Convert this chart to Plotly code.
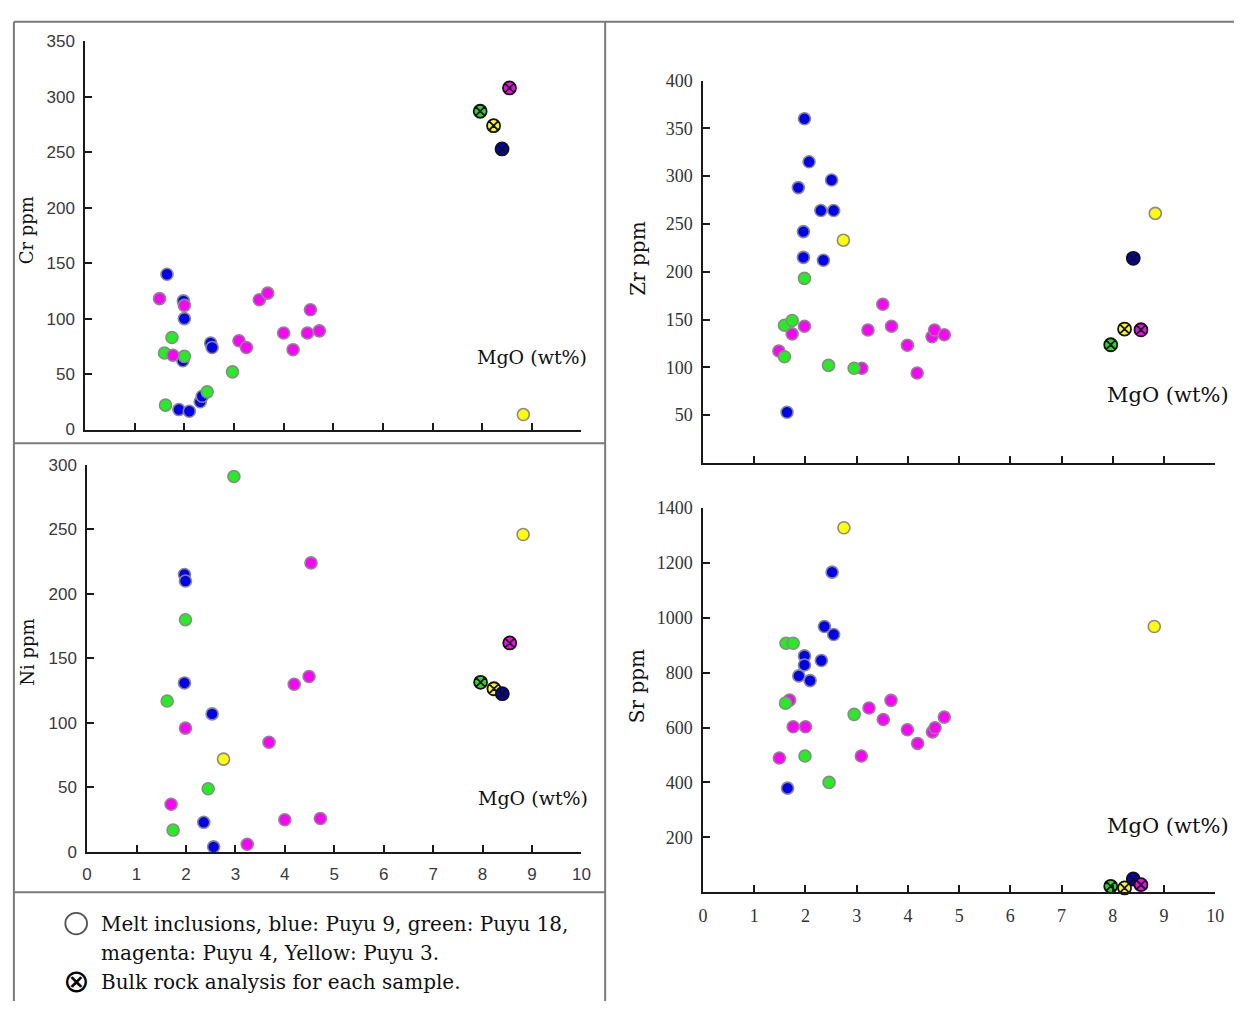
import plotly.graph_objects as go

# ---------------- data: MgO (wt%) vs trace elements (ppm) ----------------
# Cr
cr_blue_mgo = [1.65, 1.98, 2.00, 1.97, 1.89, 2.10, 2.32, 2.36, 2.53, 2.56]
cr_blue = [140, 116, 100, 62, 18, 16.5, 25, 30, 78, 74]
cr_green_mgo = [1.75, 1.60, 2.00, 1.62, 2.46, 2.97]
cr_green = [83, 69, 66, 22, 34, 52]
cr_magenta_mgo = [1.50, 2.00, 1.77, 3.10, 3.25, 3.51, 3.68, 4.00, 4.19, 4.48, 4.54, 4.72]
cr_magenta = [118, 112, 67, 80, 74, 117, 123, 87, 72, 87, 108, 89]
cr_yellow_mgo = [8.83]
cr_yellow = [13.5]

# Ni
ni_blue_mgo = [1.97, 1.99, 1.97, 2.53, 2.36, 2.56]
ni_blue = [215, 210, 131, 107, 23, 4]
ni_green_mgo = [2.97, 1.99, 1.62, 2.45, 1.74]
ni_green = [291, 180, 117, 49, 17]
ni_magenta_mgo = [4.53, 4.49, 4.19, 3.68, 1.99, 1.70, 4.00, 4.72, 3.24]
ni_magenta = [224, 136, 130, 85, 96, 37, 25, 26, 6]
ni_yellow_mgo = [2.76, 8.82]
ni_yellow = [72, 246]

# Zr
zr_blue_mgo = [1.98, 2.07, 1.86, 2.51, 2.30, 2.55, 1.96, 1.96, 2.35, 1.64]
zr_blue = [360, 315, 288, 296, 264, 264, 242, 215, 212, 53]
zr_magenta_mgo = [1.74, 1.98, 1.48, 3.10, 3.22, 3.51, 3.68, 3.99, 4.18, 4.47, 4.52, 4.71]
zr_magenta = [135, 143, 117, 99, 139, 166, 143, 123, 94, 132, 139, 134]
zr_green_mgo = [1.98, 1.59, 1.74, 1.59, 2.45, 2.95]
zr_green = [193, 144, 149, 111, 102, 99]
zr_yellow_mgo = [2.74, 8.83]
zr_yellow = [233, 261]

# Sr
sr_blue_mgo = [2.52, 2.37, 2.55, 1.98, 1.98, 2.31, 1.87, 2.09, 1.65]
sr_blue = [1166, 968, 939, 861, 828, 844, 788, 771, 379]
sr_magenta_mgo = [1.69, 1.76, 2.00, 1.49, 3.09, 3.24, 3.52, 3.67, 3.99, 4.19, 4.48, 4.53, 4.71]
sr_magenta = [700, 603, 603, 489, 496, 671, 629, 699, 592, 542, 584, 599, 638]
sr_green_mgo = [1.62, 1.76, 1.61, 2.95, 1.99, 2.46]
sr_green = [907, 907, 689, 648, 496, 400]
sr_yellow_mgo = [2.75, 8.81]
sr_yellow = [1328, 968]

# Bulk rock (order: Puyu 18 green, Puyu 3 yellow, Puyu 9 blue, Puyu 4 magenta)
bulk_colors = ["#22dd22", "#ffff00", "#0000c8", "#ff00ff"]
bulk_mgo = [7.96, 8.23, 8.40, 8.55]
bulk_cr = [287, 274, 253, 308]
bulk_ni = [131.5, 126.5, 122.7, 162]
bulk_zr = [123.6, 140, 214, 139.3]
bulk_sr = [21.5, 15.5, 48, 27.5]

BLUE = "#0000f0"
GREEN = "#22ee22"
MAGENTA = "#ff00ff"
YELLOW = "#ffff00"

W, H = 1243, 1011
SERIF = "DejaVu Serif"
SANS = "Liberation Sans"


def px(x):
    return x / W


def py(y):
    return 1 - y / H


fig = go.Figure()

panels = [
    # (axis suffix, x pixel span, y pixel span, y max, y ticks, show x labels, tick font, series, bulk)
    ("", (81, 583), (32, 428), 350, list(range(0, 351, 50)), False,
     dict(family=SANS, size=17, color="#3a3a3a"),
     [(cr_blue_mgo, cr_blue, BLUE), (cr_green_mgo, cr_green, GREEN),
      (cr_magenta_mgo, cr_magenta, MAGENTA), (cr_yellow_mgo, cr_yellow, YELLOW)], bulk_cr),
    ("2", (83, 583), (464, 859), 300, list(range(0, 301, 50)), True,
     dict(family=SANS, size=17, color="#3a3a3a"),
     [(ni_blue_mgo, ni_blue, BLUE), (ni_green_mgo, ni_green, GREEN),
      (ni_magenta_mgo, ni_magenta, MAGENTA), (ni_yellow_mgo, ni_yellow, YELLOW)], bulk_ni),
    ("3", (706, 1224), (72, 462), 400, list(range(50, 401, 50)), False,
     dict(family="Liberation Serif", size=18, color="#333333"),
     [(zr_blue_mgo, zr_blue, BLUE), (zr_magenta_mgo, zr_magenta, MAGENTA),
      (zr_green_mgo, zr_green, GREEN), (zr_yellow_mgo, zr_yellow, YELLOW)], bulk_zr),
    ("4", (706, 1224), (508, 900), 1400, list(range(200, 1401, 200)), True,
     dict(family="Liberation Serif", size=18, color="#333333"),
     [(sr_blue_mgo, sr_blue, BLUE), (sr_magenta_mgo, sr_magenta, MAGENTA),
      (sr_green_mgo, sr_green, GREEN), (sr_yellow_mgo, sr_yellow, YELLOW)], bulk_sr),
]

for suffix, (x0, x1), (y0, y1), ymax, yticks, xlabels, tfont, series, bulk in panels:
    xa = "x" + suffix
    ya = "y" + suffix
    for mx, vals, col in series:
        fig.add_trace(go.Scatter(
            x=mx, y=vals, mode="markers", xaxis=xa, yaxis=ya, showlegend=False,
            marker=dict(size=12, color=col, line=dict(color="#8a8a8a", width=1.6)),
            cliponaxis=False,
        ))
    fig.add_trace(go.Scatter(
        x=bulk_mgo, y=bulk, mode="markers", xaxis=xa, yaxis=ya, showlegend=False,
        marker=dict(size=13, symbol="circle-x", color=bulk_colors,
                    line=dict(color="#111111", width=1.8)),
        cliponaxis=False,
    ))
    axis_common = dict(showline=True, linecolor="#1a1a1a", linewidth=1.5,
                       ticks="inside", ticklen=7, tickwidth=1.5, tickcolor="#1a1a1a",
                       showgrid=False, zeroline=False, tickfont=tfont)
    fig.update_layout(**{
        "xaxis" + suffix: dict(
            domain=[px(x0), px(x1)], range=[0, 10], tickvals=list(range(0, 11)),
            showticklabels=xlabels, anchor=ya, ticklabelstandoff=6, **axis_common),
        "yaxis" + suffix: dict(
            domain=[py(y1), py(y0)], range=[0, ymax], tickvals=yticks,
            anchor=xa, ticklabelstandoff=5, **axis_common),
    })

annotations = []


def text(x, y, s, size, xanchor="left", angle=0):
    annotations.append(dict(
        x=px(x), y=py(y), xref="paper", yref="paper", text=s, showarrow=False,
        xanchor=xanchor, yanchor="middle", textangle=angle,
        font=dict(family=SERIF, size=size, color="#111111")))


text(22, 225, "Cr ppm", 18, "center", -90)
text(22, 655, "Ni ppm", 18, "center", -90)
text(640, 254, "Zr ppm", 20, "center", -90)
text(640, 690, "Sr ppm", 20, "center", -90)
text(475, 354, "MgO (wt%)", 19)
text(476, 804, "MgO (wt%)", 19)
text(1240, 393, "MgO (wt%)", 21, "right")
text(1240, 832, "MgO (wt%)", 21, "right")
text(95, 932, "Melt inclusions, blue: Puyu 9, green: Puyu 18,", 20)
text(95, 962, "magenta: Puyu 4, Yellow: Puyu 3.", 20)
text(95, 992, "Bulk rock analysis for each sample.", 20)
annotations.append(dict(
    x=px(72), y=py(991), xref="paper", yref="paper", text="⊗", showarrow=False,
    xanchor="center", yanchor="middle",
    font=dict(family="DejaVu Sans", size=32, color="#000000")))

frame = "#7a7a7a"
shapes = [
    dict(type="line", xref="paper", yref="paper", x0=px(9), x1=1, y0=py(12), y1=py(12),
         line=dict(color=frame, width=2)),
    dict(type="line", xref="paper", yref="paper", x0=px(9), x1=px(9), y0=py(12), y1=0,
         line=dict(color=frame, width=2)),
    dict(type="line", xref="paper", yref="paper", x0=px(607), x1=px(607), y0=py(12), y1=0,
         line=dict(color=frame, width=2)),
    dict(type="line", xref="paper", yref="paper", x0=px(9), x1=px(607), y0=py(442), y1=py(442),
         line=dict(color=frame, width=2)),
    dict(type="line", xref="paper", yref="paper", x0=px(9), x1=px(607), y0=py(900), y1=py(900),
         line=dict(color=frame, width=2)),
    # open circle used as the melt-inclusion key
    dict(type="circle", xref="paper", yref="paper", x0=px(61), x1=px(83), y0=py(943), y1=py(921),
         line=dict(color="#555555", width=1.8)),
]

fig.update_layout(
    width=W, height=H, margin=dict(l=0, r=0, t=0, b=0),
    paper_bgcolor="white", plot_bgcolor="white",
    annotations=annotations, shapes=shapes, showlegend=False,
)

fig.write_html("out.html")
